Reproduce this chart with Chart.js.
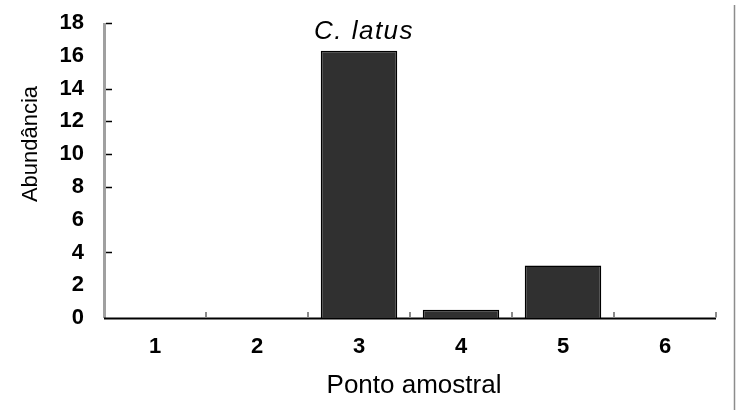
<!DOCTYPE html>
<html>
<head>
<meta charset="utf-8">
<script src="https://cdn.jsdelivr.net/npm/chart.js@4/dist/chart.umd.min.js"></script>
<style>
  html, body { margin: 0; padding: 0; background: #fff; }
  #wrap { position: relative; width: 739px; height: 416px; }
</style>
</head>
<body>
<div id="wrap"><canvas id="c" width="739" height="416"></canvas></div>
<script>
// Sampling points and abundance of C. latus
const categories = ['1', '2', '3', '4', '5', '6'];
const abundance = [0, 0, 16.3, 0.5, 3.2, 0];
const yTicks = [0, 2, 4, 6, 8, 10, 12, 14, 16, 18];
const yTickMarks = [18, 14, 12, 10, 8, 4];

const speciesName = 'C. latus';
const yTitle = 'Abundância';
const xTitle = 'Ponto amostral';

const FONT = '"Liberation Sans", Arial, sans-serif';

// axis lines, tick marks, titles and the frame line
const decorations = {
  id: 'decorations',
  beforeDatasetsDraw(chart) {
    const ctx = chart.ctx;
    const ys = chart.scales.y;
    const area = chart.chartArea;
    const y0 = ys.getPixelForValue(0);
    ctx.save();

    // value axis line (grey)
    ctx.strokeStyle = '#a0a0a0';
    ctx.lineWidth = 3;
    ctx.beginPath();
    ctx.moveTo(area.left + 0.5, ys.getPixelForValue(yTicks[yTicks.length - 1]));
    ctx.lineTo(area.left + 0.5, y0);
    ctx.stroke();

    // category axis line (black)
    ctx.strokeStyle = '#000';
    ctx.lineWidth = 2;
    ctx.beginPath();
    ctx.moveTo(area.left, y0 + 0.5);
    ctx.lineTo(area.right, y0 + 0.5);
    ctx.stroke();

    ctx.restore();
  },
  afterDraw(chart) {
    const ctx = chart.ctx;
    const xs = chart.scales.x;
    const ys = chart.scales.y;
    const area = chart.chartArea;
    ctx.save();

    // short inward tick marks on the value axis
    ctx.strokeStyle = '#000';
    ctx.lineWidth = 1.5;
    yTickMarks.forEach(v => {
      const y = Math.round(ys.getPixelForValue(v)) + 0.5;
      ctx.beginPath();
      ctx.moveTo(area.left + 2, y);
      ctx.lineTo(area.left + 8, y);
      ctx.stroke();
    });

    // short upward marks between categories
    ctx.strokeStyle = '#8a8a8a';
    ctx.lineWidth = 2;
    for (let i = 0; i < categories.length; i++) {
      const left = xs.getPixelForValue(i);
      const step = i + 1 < categories.length ? xs.getPixelForValue(i + 1) - left : left - xs.getPixelForValue(i - 1);
      const x = Math.round(left + step / 2);
      ctx.beginPath();
      ctx.moveTo(x, area.bottom - 0.5);
      ctx.lineTo(x, area.bottom - 6);
      ctx.stroke();
    }

    // species name over the tallest bar
    ctx.fillStyle = '#000';
    ctx.font = 'italic 26px ' + FONT;
    ctx.letterSpacing = '1.5px';
    ctx.textAlign = 'center';
    ctx.textBaseline = 'alphabetic';
    ctx.fillText(speciesName, xs.getPixelForValue(2) + 5, 39);
    ctx.letterSpacing = '0px';

    // axis titles
    ctx.font = '26px ' + FONT;
    ctx.fillText(xTitle, (area.left + area.right) / 2 + 4, 393);

    ctx.save();
    ctx.translate(37, 144);
    ctx.rotate(-Math.PI / 2);
    ctx.font = '22px ' + FONT;
    ctx.fillText(yTitle, 0, 0);
    ctx.restore();

    // thin frame line at the right edge
    ctx.strokeStyle = '#8c8c8c';
    ctx.lineWidth = 1.5;
    ctx.beginPath();
    ctx.moveTo(734.5, 5);
    ctx.lineTo(734.5, 410);
    ctx.stroke();

    ctx.restore();
  }
};

new Chart(document.getElementById('c'), {
  type: 'bar',
  data: {
    labels: categories,
    datasets: [{
      data: abundance,
      backgroundColor: '#303030',
      borderColor: '#000',
      borderWidth: 1.5,
      categoryPercentage: 1,
      barPercentage: 0.75
    }]
  },
  options: {
    responsive: false,
    animation: false,
    devicePixelRatio: 1,
    layout: { padding: { left: 0, right: 23, top: 23, bottom: 0 } },
    plugins: { legend: { display: false }, tooltip: { enabled: false }, title: { display: false } },
    scales: {
      x: {
        afterFit(scale) { scale.height = 98; scale.paddingLeft = 0; scale.paddingRight = 0; },
        grid: { display: false, drawTicks: false, drawBorder: false },
        border: { display: false },
        ticks: { color: '#000', padding: 16, font: { family: FONT, size: 22, weight: 'bold' } }
      },
      y: {
        min: 0,
        max: 18,
        afterFit(scale) { scale.width = 104; scale.paddingTop = 0; scale.paddingBottom = 0; },
        afterBuildTicks(scale) { scale.ticks = yTicks.map(v => ({ value: v })); },
        grid: { display: false, drawTicks: false, drawBorder: false },
        border: { display: false },
        ticks: { color: '#000', padding: 20, font: { family: FONT, size: 22, weight: 'bold' } }
      }
    }
  },
  plugins: [decorations]
});
</script>
</body>
</html>
